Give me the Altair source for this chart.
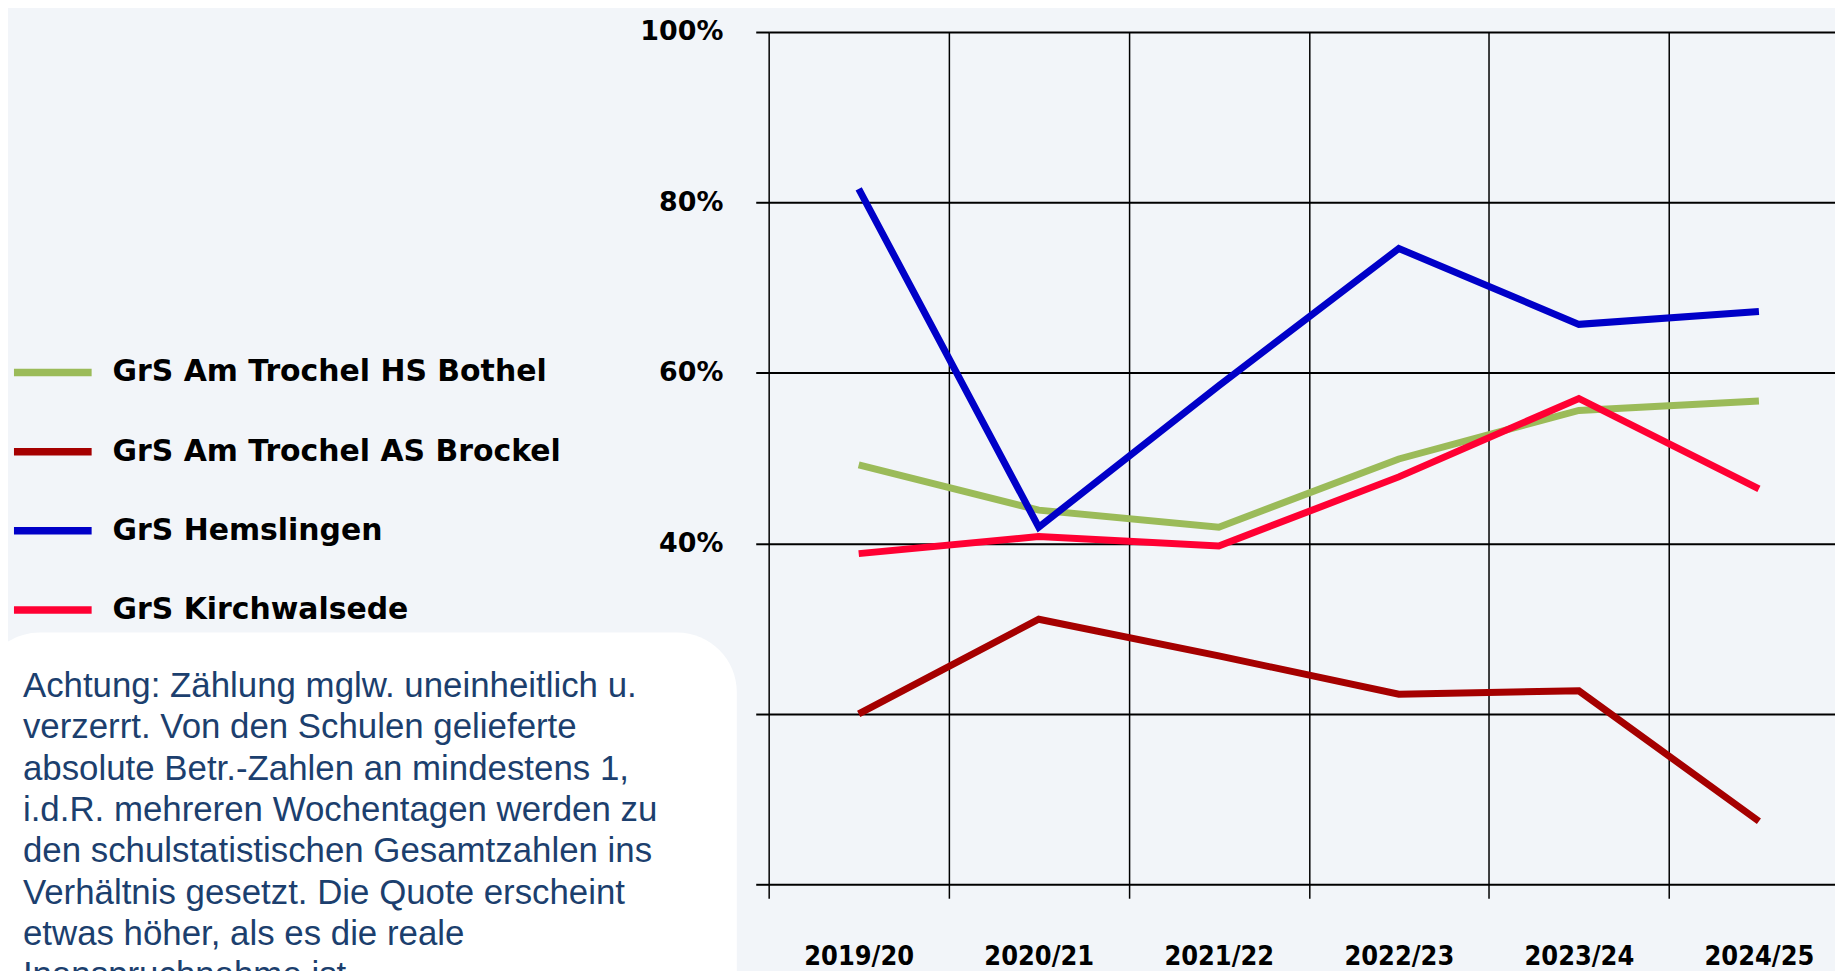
import altair as alt
import pandas as pd

# ---- data ----
years = ["2019/20", "2020/21", "2021/22", "2022/23", "2023/24", "2024/25"]
schools = [
    "GrS Am Trochel HS Bothel",
    "GrS Am Trochel AS Brockel",
    "GrS Hemslingen",
    "GrS Kirchwalsede",
]
bothel = [49.2, 43.9, 41.9, 49.9, 55.6, 56.7]
brockel = [20.0, 31.1, 26.8, 22.3, 22.7, 7.4]
hemslingen = [81.6, 41.9, 58.5, 74.6, 65.7, 67.2]
kirchwalsede = [38.8, 40.8, 39.7, 47.8, 57.0, 46.4]
colors = ["#9BBB59", "#A50000", "#0000C8", "#FF0033"]
y_ticks = [0, 0.2, 0.4, 0.6, 0.8, 1.0]

note_lines = [
    "Achtung: Zählung mglw. uneinheitlich u.",
    "verzerrt. Von den Schulen gelieferte",
    "absolute Betr.-Zahlen an mindestens 1,",
    "i.d.R. mehreren Wochentagen werden zu",
    "den schulstatistischen Gesamtzahlen ins",
    "Verhältnis gesetzt. Die Quote erscheint",
    "etwas höher, als es die reale",
    "Inanspruchnahme ist.",
]

rows = []
for s, vals in zip(schools, [bothel, brockel, hemslingen, kirchwalsede]):
    for yr, v in zip(years, vals):
        rows.append({"Schuljahr": yr, "Schule": s, "Quote": v / 100.0})
df = pd.DataFrame(rows)

lines = alt.Chart(df).mark_line(strokeWidth=7, strokeJoin="miter").encode(
    x=alt.X(
        "Schuljahr:N",
        sort=years,
        bandPosition=0.5,
        scale=alt.Scale(type="band", range=[0, 1085], paddingInner=0, paddingOuter=0),
        axis=alt.Axis(
            title=None,
            tickBand="extent",
            grid=True,
            gridColor="black",
            gridWidth=1.5,
            gridOpacity=1,
            domain=False,
            ticks=True,
            tickSize=14,
            tickColor="black",
            tickWidth=1.5,
            labelAngle=0,
            labelFont="DejaVu Sans Condensed",
            labelFontWeight="bold",
            labelFontSize=27,
            labelColor="black",
            labelPadding=59,
            labelBaseline="middle",
        ),
    ),
    y=alt.Y(
        "Quote:Q",
        scale=alt.Scale(domain=[0, 1], nice=False),
        axis=alt.Axis(
            title=None,
            values=y_ticks,
            format=".0%",
            grid=True,
            gridColor="black",
            gridWidth=2,
            gridOpacity=1,
            domain=False,
            tickSize=13,
            tickColor="black",
            tickWidth=2,
            labelFont="DejaVu Sans",
            labelFontWeight="bold",
            labelFontSize=27,
            labelColor="black",
            labelPadding=33,
        ),
    ),
    color=alt.Color(
        "Schule:N",
        sort=schools,
        scale=alt.Scale(domain=schools, range=colors),
        legend=alt.Legend(
            title=None,
            orient="none",
            legendX=-762,
            legendY=299,
            symbolType="stroke",
            symbolSize=6084,
            symbolStrokeWidth=7.5,
            labelFont="DejaVu Sans",
            labelFontWeight="bold",
            labelFontSize=30,
            labelColor="black",
            labelOffset=17,
            labelLimit=0,
            rowPadding=21.5,
            padding=0,
        ),
    ),
)

box_src = pd.DataFrame({"k": [0]})
box = alt.Chart(box_src).mark_rect(fill="white", cornerRadius=60).encode(
    x=alt.value(-792), x2=alt.value(-32), y=alt.value(603), y2=alt.value(1100)
)

note = alt.Chart(box_src).mark_text(
    align="left",
    baseline="top",
    font="Liberation Sans",
    fontSize=35,
    lineHeight=41.5,
    color="#1c3f6e",
    text=note_lines,
).encode(x=alt.value(-749), y=alt.value(640))

chart = (
    alt.layer(lines, box, note)
    .properties(
        width=1071,
        height=856,
        autosize=alt.AutoSizeParams(type="none"),
        padding={"left": 764, "top": 22, "right": 0, "bottom": 90},
        background="#F2F5F9",
    )
    .configure_view(stroke=None)
)

chart.save("out.html", embed_options={"renderer": "svg", "actions": False})
